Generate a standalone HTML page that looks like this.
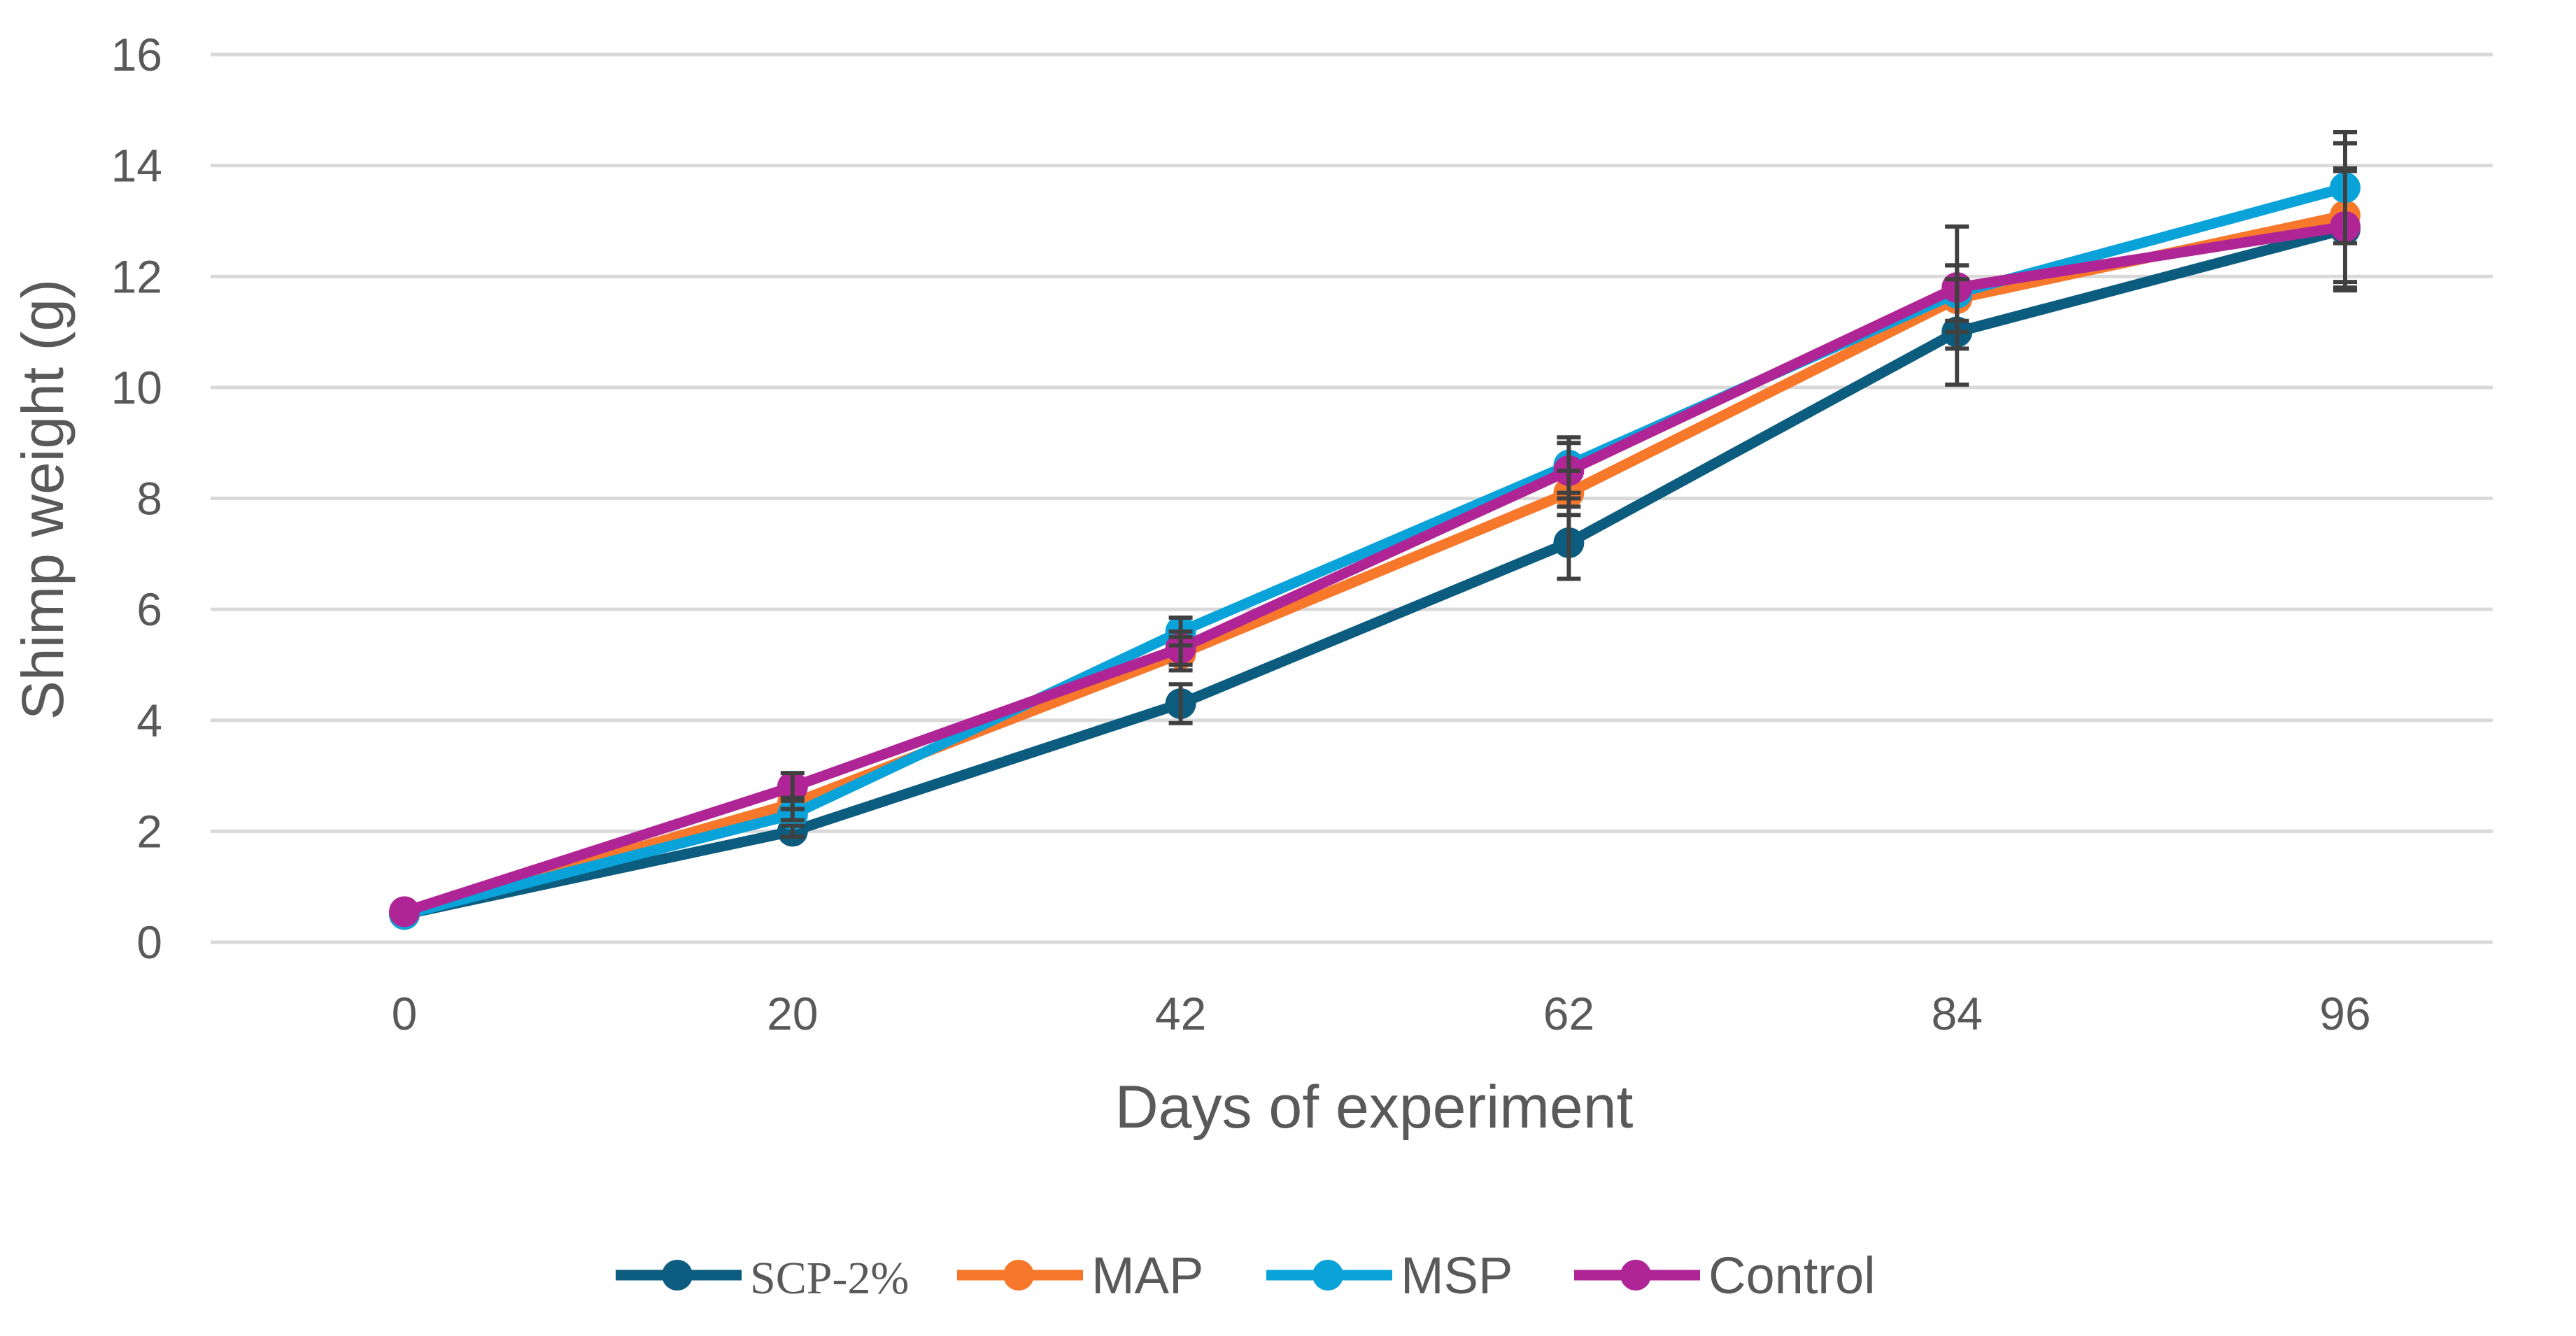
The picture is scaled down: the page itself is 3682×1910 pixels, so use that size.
<!DOCTYPE html>
<html><head><meta charset="utf-8"><style>
html,body{margin:0;padding:0;background:#fff;}
svg{display:block;}
text{font-family:"Liberation Sans",sans-serif;fill:#595959;}
</style></head><body>
<svg id="chart" width="3682" height="1910" viewBox="0 0 3682 1910" xmlns="http://www.w3.org/2000/svg">
<g id="grid"></g>
<g id="yticks"></g>
<g id="xticks"></g>
<g id="series"></g>
<text x="0" y="0" transform="translate(90,714) rotate(-90)" text-anchor="middle" font-size="84">Shimp weight (g)</text>
<text x="1964" y="1612" text-anchor="middle" font-size="86">Days of experiment</text>
<g id="legend"></g>
</svg>
<script>
const categories = ["0","20","42","62","84","96"];
const yTicks = [0,2,4,6,8,10,12,14,16];
const seriesNames = ["SCP-2%","MAP","MSP","Control"];
const seriesColors = ["#0b5c7e","#f7772b","#0aa3d9","#b02596"];
const scpValues = [0.5,2.0,4.3,7.2,11.0,12.85];
const mapValues = [0.5,2.5,5.2,8.1,11.6,13.1];
const mspValues = [0.5,2.3,5.6,8.6,11.7,13.6];
const controlValues = [0.55,2.8,5.3,8.5,11.8,12.9];
const scpErr = [0,0.1,0.35,0.65,0.95,1.1];
const mapErr = [0,0.1,0.3,0.4,0.6,1.3];
const mspErr = [0,0.1,0.25,0.5,0.5,1.0];
const controlErr = [0,0.25,0.3,0.5,1.1,1.0];

const NS="http://www.w3.org/2000/svg";
const plotL=301, plotR=3563, plotTop=78, plotBot=1347, yMax=16;
const firstX=578, stepX=554.8;
function xScale(i){return firstX+stepX*i;}
function yScale(v){return plotBot-(v/yMax)*(plotBot-plotTop);}
function mk(tag,attrs,parent){const e=document.createElementNS(NS,tag);for(const k in attrs)e.setAttribute(k,attrs[k]);parent.appendChild(e);return e;}

const grid=document.getElementById('grid'), yt=document.getElementById('yticks'), xt=document.getElementById('xticks');
yTicks.forEach(v=>{
  const l=mk('line',{x1:plotL,x2:plotR,y1:yScale(v),y2:yScale(v),stroke:'#d9d9d9','stroke-width':5},grid);
  
  
  const t=mk('text',{x:232,y:yScale(v)+23,'text-anchor':'end','font-size':66},yt);
  t.textContent=v;
  
  
});
categories.forEach((c,i)=>{
  const t=mk('text',{x:xScale(i),y:1472,'text-anchor':'middle','font-size':66},xt);
  t.textContent=c;
  
  
});

const allVals=[scpValues,mapValues,mspValues,controlValues];
const allErr=[scpErr,mapErr,mspErr,controlErr];
const sg=document.getElementById('series');
const errG=mk('g',{},sg);


allVals.forEach((vals,s)=>{
  const g=mk('g',{},sg);
  
  
  const pts=vals.map((v,i)=>xScale(i)+','+yScale(v)).join(' ');
  const pl=mk('polyline',{points:pts,fill:'none',stroke:seriesColors[s],'stroke-width':15,'stroke-linejoin':'round'},g);
  
  
  vals.forEach((v,i)=>{
    const c=mk('circle',{cx:xScale(i),cy:yScale(v),r:22,fill:seriesColors[s]},g);
    
    
    const e=allErr[s][i];
    if(e>0){
      const x=xScale(i),y1=yScale(v+e),y2=yScale(v-e);
      const eb=mk('path',{d:`M${x},${y1}V${y2}M${x-17},${y1}H${x+17}M${x-17},${y2}H${x+17}`,stroke:'#404040','stroke-width':6,fill:'none'},errG);
      
      
    }
  });
});
sg.appendChild(errG);

const lg=document.getElementById('legend');
const legendX=[880,1368,1810,2250];
const legendY=1823;
seriesNames.forEach((n,s)=>{
  const g=mk('g',{},lg);
  
  
  const x=legendX[s];
  mk('line',{x1:x,x2:x+180,y1:legendY,y2:legendY,stroke:seriesColors[s],'stroke-width':15},g);
  mk('circle',{cx:x+88,cy:legendY,r:22,fill:seriesColors[s]},g);
  const t=mk('text',{x:x+192,y:legendY+26,'font-size':n==='SCP-2%'?66:74},g);
  if(n==='SCP-2%') t.setAttribute('style','font-family:"Liberation Serif",serif');
  t.textContent=n;
});
</script>
</body></html>
